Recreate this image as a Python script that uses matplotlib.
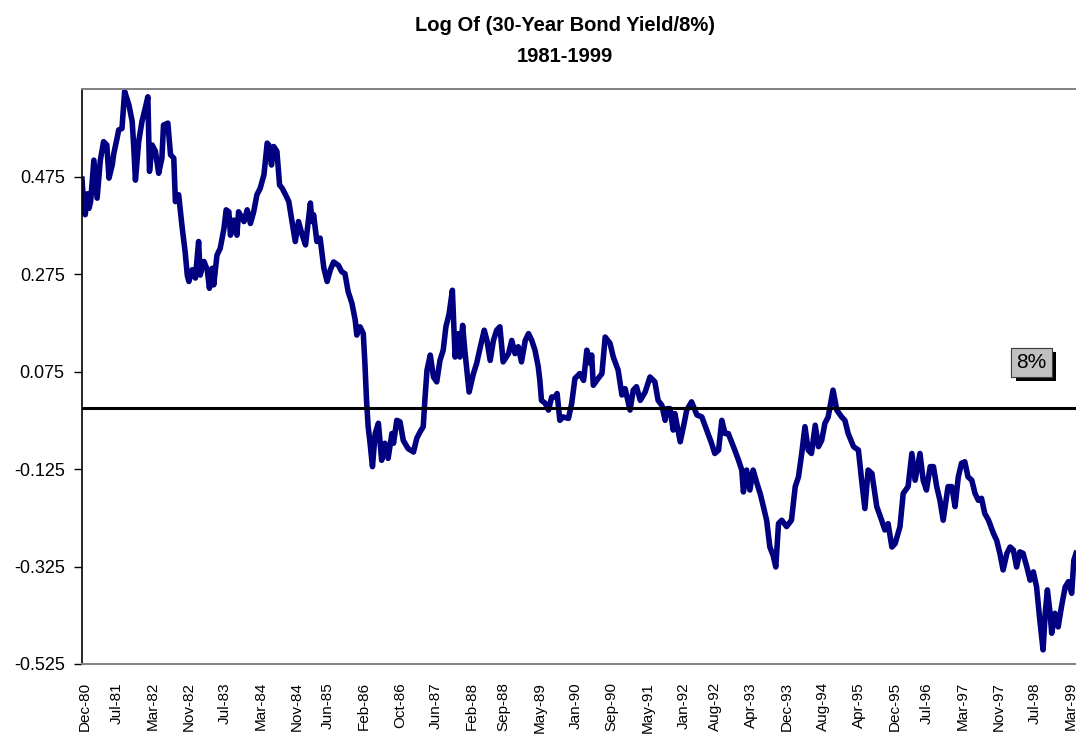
import matplotlib
matplotlib.use('Agg')
import matplotlib.pyplot as plt
import matplotlib.patheffects as pe
from matplotlib.ticker import FormatStrFormatter

# decimal year of each sample
dates = [
    1980.90, 1980.93, 1980.96, 1981.00, 1981.03, 1981.06, 1981.12, 1981.18, 1981.24, 1981.30,
    1981.36, 1981.40, 1981.46, 1981.49, 1981.55, 1981.58, 1981.64, 1981.69, 1981.77, 1981.83,
    1981.86, 1981.89, 1981.95, 1982.01, 1982.07, 1982.12, 1982.15, 1982.20, 1982.26, 1982.32,
    1982.38, 1982.41, 1982.49, 1982.54, 1982.60, 1982.63, 1982.69, 1982.75, 1982.81, 1982.85,
    1982.88, 1982.94, 1983.00, 1983.06, 1983.09, 1983.16, 1983.22, 1983.26, 1983.31, 1983.34,
    1983.40, 1983.46, 1983.53, 1983.57, 1983.62, 1983.65, 1983.71, 1983.77, 1983.80, 1983.90,
    1983.96, 1984.02, 1984.08, 1984.14, 1984.20, 1984.27, 1984.33, 1984.36, 1984.41, 1984.45,
    1984.51, 1984.56, 1984.61, 1984.67, 1984.73, 1984.79, 1984.85, 1984.91, 1984.98, 1985.04,
    1985.13, 1985.16, 1985.19, 1985.25, 1985.31, 1985.38, 1985.44, 1985.50, 1985.56, 1985.65,
    1985.71, 1985.77, 1985.83, 1985.90, 1985.96, 1985.99, 1986.05, 1986.11, 1986.14, 1986.17,
    1986.20, 1986.23, 1986.28, 1986.33, 1986.39, 1986.45, 1986.51, 1986.57, 1986.64, 1986.67,
    1986.73, 1986.79, 1986.85, 1986.94, 1987.04, 1987.10, 1987.16, 1987.22, 1987.25, 1987.29,
    1987.35, 1987.41, 1987.47, 1987.53, 1987.59, 1987.64, 1987.70, 1987.76, 1987.81, 1987.87,
    1987.90, 1987.95, 1987.99, 1988.07, 1988.15, 1988.21, 1988.27, 1988.35, 1988.40, 1988.46,
    1988.52, 1988.58, 1988.64, 1988.70, 1988.80, 1988.86, 1988.92, 1988.98, 1989.04, 1989.11,
    1989.17, 1989.23, 1989.29, 1989.35, 1989.38, 1989.41, 1989.48, 1989.54, 1989.60, 1989.66,
    1989.70, 1989.75, 1989.81, 1989.91, 1989.97, 1990.03, 1990.12, 1990.19, 1990.25, 1990.31,
    1990.34, 1990.37, 1990.46, 1990.53, 1990.59, 1990.68, 1990.74, 1990.83, 1990.90, 1990.96,
    1991.05, 1991.11, 1991.17, 1991.24, 1991.33, 1991.42, 1991.51, 1991.57, 1991.64, 1991.70,
    1991.73, 1991.79, 1991.85, 1991.88, 1991.98, 1992.04, 1992.10, 1992.19, 1992.29, 1992.38,
    1992.47, 1992.56, 1992.62, 1992.69, 1992.75, 1992.81, 1992.87, 1992.93, 1992.99, 1993.06,
    1993.12, 1993.15, 1993.21, 1993.27, 1993.33, 1993.40, 1993.46, 1993.52, 1993.58, 1993.64,
    1993.70, 1993.75, 1993.80, 1993.86, 1993.95, 1994.04, 1994.11, 1994.17, 1994.23, 1994.29,
    1994.35, 1994.41, 1994.48, 1994.54, 1994.60, 1994.66, 1994.72, 1994.81, 1994.88, 1994.97,
    1995.03, 1995.09, 1995.19, 1995.28, 1995.34, 1995.40, 1995.46, 1995.53, 1995.62, 1995.71,
    1995.77, 1995.83, 1995.90, 1995.96, 1996.05, 1996.11, 1996.20, 1996.27, 1996.33, 1996.42,
    1996.48, 1996.54, 1996.61, 1996.67, 1996.73, 1996.79, 1996.85, 1996.94, 1997.01, 1997.07,
    1997.13, 1997.19, 1997.25, 1997.31, 1997.38, 1997.44, 1997.50, 1997.56, 1997.62, 1997.69,
    1997.78, 1997.84, 1997.90, 1997.96, 1998.03, 1998.09, 1998.15, 1998.21, 1998.27, 1998.33,
    1998.40, 1998.46, 1998.52, 1998.58, 1998.64, 1998.70, 1998.74, 1998.78, 1998.83, 1998.86,
    1998.92, 1998.98, 1999.04, 1999.11, 1999.17, 1999.23, 1999.27, 1999.31,
]

# ln(30-year yield / 8%)
log_ratio = [
    0.470, 0.420, 0.397, 0.440, 0.410, 0.424, 0.509, 0.431, 0.509, 0.547,
    0.540, 0.472, 0.499, 0.523, 0.554, 0.571, 0.574, 0.650, 0.622, 0.588,
    0.533, 0.468, 0.547, 0.588, 0.615, 0.639, 0.486, 0.540, 0.527, 0.482,
    0.513, 0.581, 0.585, 0.520, 0.513, 0.424, 0.438, 0.376, 0.321, 0.273,
    0.260, 0.284, 0.267, 0.342, 0.273, 0.301, 0.284, 0.246, 0.287, 0.253,
    0.314, 0.328, 0.369, 0.407, 0.403, 0.355, 0.386, 0.355, 0.403, 0.383,
    0.407, 0.379, 0.403, 0.438, 0.451, 0.479, 0.544, 0.540, 0.499, 0.537,
    0.527, 0.458, 0.451, 0.438, 0.424, 0.383, 0.342, 0.383, 0.355, 0.335,
    0.421, 0.383, 0.397, 0.342, 0.349, 0.287, 0.260, 0.284, 0.300, 0.293,
    0.280, 0.276, 0.239, 0.215, 0.181, 0.150, 0.167, 0.153, 0.092, 0.016,
    -0.038, -0.066, -0.120, -0.052, -0.031, -0.107, -0.072, -0.103, -0.052, -0.072,
    -0.025, -0.028, -0.066, -0.083, -0.090, -0.062, -0.049, -0.038, 0.016, 0.078,
    0.109, 0.064, 0.054, 0.098, 0.119, 0.167, 0.194, 0.242, 0.105, 0.153,
    0.105, 0.170, 0.119, 0.033, 0.071, 0.092, 0.122, 0.160, 0.139, 0.098,
    0.139, 0.160, 0.167, 0.095, 0.112, 0.139, 0.112, 0.126, 0.095, 0.139,
    0.153, 0.139, 0.119, 0.085, 0.057, 0.016, 0.010, -0.004, 0.023, 0.023,
    0.030, -0.025, -0.018, -0.021, 0.010, 0.061, 0.071, 0.057, 0.119, 0.092,
    0.109, 0.047, 0.061, 0.071, 0.146, 0.133, 0.105, 0.078, 0.027, 0.040,
    -0.004, 0.037, 0.044, 0.016, 0.033, 0.064, 0.054, 0.016, 0.006, -0.025,
    -0.001, -0.001, -0.045, -0.011, -0.069, -0.038, -0.004, 0.013, -0.014, -0.018,
    -0.045, -0.072, -0.093, -0.086, -0.025, -0.052, -0.052, -0.069, -0.086, -0.107,
    -0.127, -0.172, -0.127, -0.168, -0.127, -0.154, -0.175, -0.202, -0.230, -0.285,
    -0.302, -0.326, -0.237, -0.230, -0.243, -0.230, -0.161, -0.141, -0.093, -0.038,
    -0.086, -0.093, -0.035, -0.079, -0.066, -0.031, -0.018, 0.037, -0.004, -0.018,
    -0.025, -0.052, -0.079, -0.086, -0.148, -0.206, -0.127, -0.134, -0.202, -0.230,
    -0.250, -0.237, -0.285, -0.278, -0.243, -0.175, -0.161, -0.093, -0.148, -0.093,
    -0.148, -0.168, -0.120, -0.120, -0.161, -0.189, -0.230, -0.161, -0.161, -0.202,
    -0.141, -0.113, -0.110, -0.141, -0.148, -0.175, -0.189, -0.185, -0.216, -0.230,
    -0.257, -0.271, -0.298, -0.332, -0.298, -0.285, -0.291, -0.326, -0.295, -0.298,
    -0.326, -0.353, -0.336, -0.367, -0.435, -0.496, -0.421, -0.373, -0.421, -0.462,
    -0.421, -0.449, -0.408, -0.367, -0.356, -0.380, -0.312, -0.298,
]

# category labels along the bottom, with the month each one stands for
tick_labels = [
    'Dec-80', 'Jul-81', 'Mar-82', 'Nov-82', 'Jul-83', 'Mar-84', 'Nov-84', 'Jun-85',
    'Feb-86', 'Oct-86', 'Jun-87', 'Feb-88', 'Sep-88', 'May-89', 'Jan-90', 'Sep-90',
    'May-91', 'Jan-92', 'Aug-92', 'Apr-93', 'Dec-93', 'Aug-94', 'Apr-95', 'Dec-95',
    'Jul-96', 'Mar-97', 'Nov-97', 'Jul-98', 'Mar-99',
]
tick_months = [
    (1980, 12), (1981, 7), (1982, 3), (1982, 11), (1983, 7), (1984, 3), (1984, 11), (1985, 6),
    (1986, 2), (1986, 10), (1987, 6), (1988, 2), (1988, 9), (1989, 5), (1990, 1), (1990, 9),
    (1991, 5), (1992, 1), (1992, 8), (1993, 4), (1993, 12), (1994, 8), (1995, 4), (1995, 12),
    (1996, 7), (1997, 3), (1997, 11), (1998, 7), (1999, 3),
]

y_ticks = [0.475, 0.275, 0.075, -0.125, -0.325, -0.525]

# the 8% reference level (log of 8/8) and where its tag sits
par_level = 0.0
par_tag = '8%'
par_tag_pos = (1998.49, 0.094)

plt.rcParams['font.family'] = ['Liberation Sans', 'DejaVu Sans']


def main():
    fig = plt.figure(figsize=(10.76, 7.38), dpi=100)
    ax = fig.add_axes([0.0762, 0.1003, 0.9238, 0.7791])

    ax.plot(dates, log_ratio, color='#000080', lw=4.0, zorder=2)
    ax.axhline(par_level, color='black', lw=2.2, zorder=3)

    ax.set_xlim(1980.90, 1999.31)
    ax.set_ylim(-0.525, 0.655)

    ax.set_yticks(y_ticks)
    ax.yaxis.set_major_formatter(FormatStrFormatter('%.3f'))
    ax.tick_params(axis='y', length=6, width=1, direction='out', pad=6.5,
                   labelsize=13, colors='black')

    xpos = [y + (m - 1) / 12 + 1 / 24 for y, m in tick_months]
    ax.set_xticks(xpos)
    ax.set_xticklabels(tick_labels, rotation=90, fontsize=11)
    ax.tick_params(axis='x', length=0, pad=13)

    for side in ['top', 'bottom']:
        ax.spines[side].set_color('#808080')
        ax.spines[side].set_linewidth(1.4)
    ax.spines['left'].set_color('black')
    ax.spines['left'].set_linewidth(1.2)
    ax.spines['right'].set_visible(False)

    # grey tag with a solid black drop shadow
    tag = ax.text(*par_tag_pos, par_tag, ha='center', va='center', fontsize=15,
                  color='black', zorder=5,
                  bbox=dict(boxstyle='square,pad=0.25', fc='#c0c0c0', ec='#404040', lw=0.8))
    tag.get_bbox_patch().set_path_effects([
        pe.withSimplePatchShadow(offset=(3, -3), shadow_rgbFace='black', alpha=1.0),
        pe.Normal(),
    ])

    fig.text(0.525, 0.966, 'Log Of (30-Year Bond Yield/8%)', ha='center', va='center',
             fontsize=14.5, fontweight='bold')
    fig.text(0.525, 0.923, '1981-1999', ha='center', va='center',
             fontsize=14.5, fontweight='bold')

    fig.savefig('out.png', dpi=100)
    plt.close(fig)


if __name__ == "__main__":
    main()
